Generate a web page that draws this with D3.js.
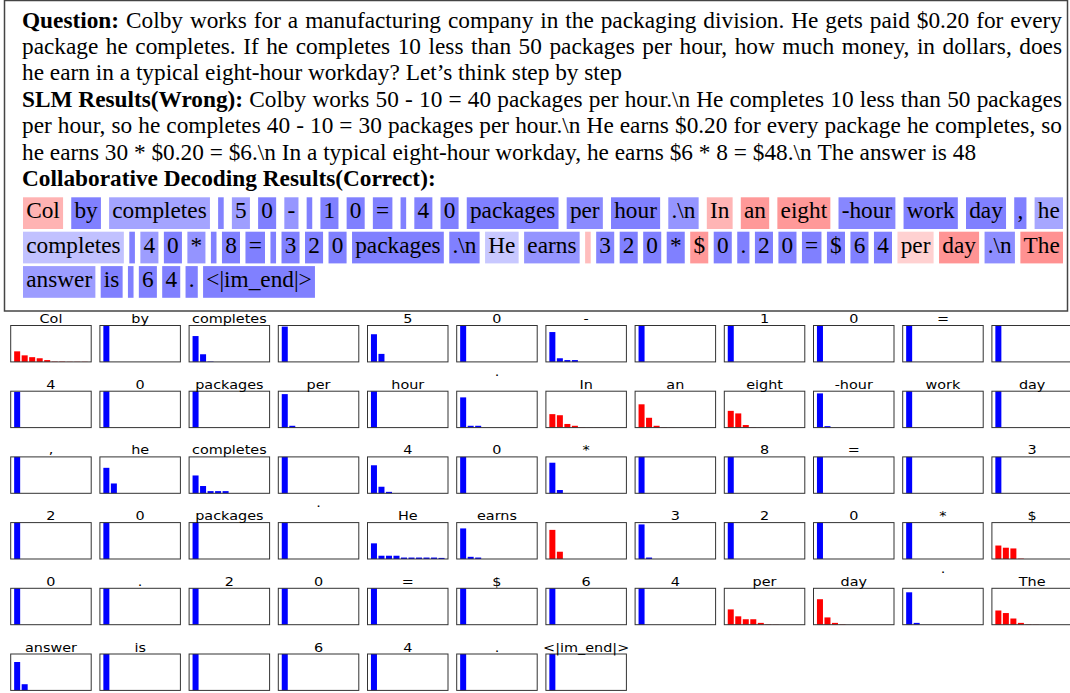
<!DOCTYPE html>
<html>
<head>
<meta charset="utf-8">
<script src="https://cdn.jsdelivr.net/npm/d3@7"></script>
<style>
  body { margin: 0; background: #fff; }
  svg { display: block; }
</style>
</head>
<body>
<svg id="chart" width="1070" height="693"></svg>
<script>
// ---- data ----
const questionLines = [
  'Colby works for a manufacturing company in the packaging division. He gets paid $0.20 for every',
  'package he completes. If he completes 10 less than 50 packages per hour, how much money, in dollars, does',
  'he earn in a typical eight-hour workday? Let\u2019s think step by step',
]
const slmLines = [
  'Colby works 50 - 10 = 40 packages per hour.\\n He completes 10 less than 50 packages',
  'per hour, so he completes 40 - 10 = 30 packages per hour.\\n He earns $0.20 for every package he completes, so',
  'he earns 30 * $0.20 = $6.\\n In a typical eight-hour workday, he earns $6 * 8 = $48.\\n The answer is 48',
]

// decoded tokens (" " = space token, "\n" = newline)
const tokens = [
  'Col', 'by', 'completes', ' ', '5', '0', '-', ' ', '1', '0', '=', ' ',
  '4', '0', 'packages', 'per', 'hour', '.\n', 'In', 'an', 'eight', '-hour', 'work', 'day',
  ',', 'he', 'completes', ' ', '4', '0', '*', ' ', '8', '=', ' ', '3',
  '2', '0', 'packages', '.\n', 'He', 'earns', ' ', '3', '2', '0', '*', '$',
  '0', '.', '2', '0', '=', '$', '6', '4', 'per', 'day', '.\n', 'The',
  'answer', 'is', ' ', '6', '4', '.', '<|im_end|>',
]

// top-10 next-token probabilities of the small model at each step
const topProbs = [
  [0.29, 0.18, 0.13, 0.1, 0.05, 0.01, 0.01, 0.005, 0.005, 0.005],
  [1], [0.71, 0.21, 0.01], [0.97], [0.76, 0.22], [1], [0.82, 0.1, 0.05, 0.05], [1],
  [1], [1], [1], [1],
  [0.98], [1], [1], [0.92, 0.05], [1], [0.83, 0.05, 0.05],
  [0.37, 0.34, 0.1, 0.05, 0.01, 0.005, 0.005], [0.64, 0.27, 0.05, 0.01, 0.005],
  [0.46, 0.39, 0.07, 0.01, 0.005], [0.94, 0.04], [1], [1],
  [1], [0.7, 0.27], [0.49, 0.2, 0.06, 0.06, 0.06], [1], [0.77, 0.18, 0.04], [1],
  [0.84, 0.09], [1], [1], [1], [1], [1],
  [1], [1], [1], [1], [0.43, 0.09, 0.09, 0.09, 0.04, 0.04, 0.04, 0.04, 0.04, 0.03],
  [0.84, 0.06, 0.04], [0.8, 0.2], [0.95, 0.04], [1], [1], [1], [0.37, 0.31, 0.29, 0.01],
  [1], [1], [1], [1], [1], [1], [1], [1],
  [0.42, 0.23, 0.15, 0.15, 0.05, 0.01, 0.005], [0.7, 0.2, 0.05, 0.01], [0.89, 0.05],
  [0.39, 0.32, 0.17, 0.05, 0.01, 0.005],
  [0.78, 0.17], [1], [1], [1], [1], [1], [1],
]

// tokens handed over to the large model, and their shading weight
const redTokens = [0, 18, 19, 20, 42, 47, 56, 57, 59]
const redWeights = [0.3, 0.29, 0.4, 0.4, 0.26, 0.4, 0.18, 0.42, 0.43]

// ---- layout ----
const svg = d3.select('#chart')
const serif = '"Liberation Serif", "Times New Roman", Times, serif'
const sans = '"DejaVu Sans", sans-serif'
const fs = 23.3

const redMap = new Map(redTokens.map((t, i) => [t, redWeights[i]]))
const blueCol = d3.interpolateRgb('#ffffff', '#0000ff')
const redCol = d3.interpolateRgb('#ffffff', '#ff0000')

// hidden text for measuring
const meas = svg.append('text')
  .attr('font-family', serif)
  .attr('font-size', fs)
  .attr('visibility', 'hidden')
function textWidth(s, bold) {
  meas.attr('font-weight', bold ? 'bold' : 'normal').text(s)
  return meas.node().getComputedTextLength()
}
const spaceW = textWidth('a a') - textWidth('aa')

// outer frame
svg.append('rect')
  .attr('x', 4.5).attr('y', 0.5)
  .attr('width', 1063).attr('height', 310.5)
  .attr('fill', 'none')
  .attr('stroke', '#444')
  .attr('stroke-width', 1.5)

// paragraph lines
function lineWords(prefix, str) {
  const words = []
  if (prefix) words.push({ t: prefix, b: true })
  if (str) str.split(' ').forEach((w) => words.push({ t: w, b: false }))
  return words
}
const paraLines = [
  { words: lineWords('Question:', questionLines[0]), justify: true },
  { words: lineWords(null, questionLines[1]), justify: true },
  { words: lineWords(null, questionLines[2]), justify: false },
  { words: lineWords('SLM Results(Wrong):', slmLines[0]), justify: true },
  { words: lineWords(null, slmLines[1]), justify: true },
  { words: lineWords(null, slmLines[2]), justify: false },
  { words: lineWords('Collaborative Decoding Results(Correct):', null), justify: false },
]

const textLeft = 22
const textRight = 1062
const baseline0 = 27.5
const lineH = 26.45

const textLayer = svg.append('g').attr('id', 'paragraph')
paraLines.forEach((line, li) => {
  const widths = line.words.map((w) => textWidth(w.t, w.b))
  const total = d3.sum(widths)
  const gap = line.justify
    ? (textRight - textLeft - total) / (line.words.length - 1)
    : spaceW
  let x = textLeft
  const t = textLayer.append('text')
    .attr('y', baseline0 + li * lineH)
    .attr('font-family', serif)
    .attr('font-size', fs)
    .attr('fill', '#000')
  line.words.forEach((w, i) => {
    t.append('tspan')
      .attr('x', x)
      .attr('font-weight', w.b ? 'bold' : 'normal')
      .text(w.t)
    x += widths[i] + gap
  })
})

// highlighted tokens
const rowBreaks = [0, 26, 60, tokens.length]
const boxTop0 = 197.3
const boxPitch = 34.4
const boxH = 31.7
const pad = 3.2
const spaceBoxW = 5.6
const tokGap = 5.3

function tokenLabel(t) {
  return t.replace(/\n/g, '\\n')
}
function tokenFill(i) {
  if (redMap.has(i)) return redCol(redMap.get(i))
  return blueCol(0.5 * d3.max(topProbs[i]))
}

const tokLayer = svg.append('g').attr('id', 'tokens')
for (let r = 0; r < rowBreaks.length - 1; r++) {
  const idx = d3.range(rowBreaks[r], rowBreaks[r + 1])
  const boxW = idx.map((i) =>
    tokens[i].trim() === '' ? spaceBoxW : textWidth(tokenLabel(tokens[i]), false) + 2 * pad
  )
  const last = r === rowBreaks.length - 2
  const gap = last
    ? tokGap
    : (textRight + 1 - (textLeft + 1) - d3.sum(boxW)) / (idx.length - 1)
  let x = textLeft + 1
  const y = boxTop0 + r * boxPitch
  idx.forEach((i, k) => {
    const g = tokLayer.append('g').attr('transform', `translate(${x},${y})`)
    g.append('rect')
      .attr('width', boxW[k])
      .attr('height', boxH)
      .attr('fill', tokenFill(i))
    if (tokens[i].trim() !== '') {
      g.append('text')
        .attr('x', pad)
        .attr('y', 21)
        .attr('font-family', serif)
        .attr('font-size', fs)
        .attr('fill', '#000')
        .text(tokenLabel(tokens[i]))
    }
    x += boxW[k] + gap
  })
}

// small multiples of the token distributions
const nCols = 12
const panelX0 = 10.7
const panelY0 = 325.5
const pitchX = 89.2
const pitchY = 65.7
const pw = 80.5
const ph = 36.4

const x = d3.scaleLinear().domain([-0.86, 9.86]).range([0, pw])
const y = d3.scaleLinear().domain([0, 1]).range([ph, 0])

const panels = svg.append('g').attr('id', 'panels')
  .selectAll('g')
  .data(tokens.map((t, i) => ({ t, i, probs: d3.range(10).map((k) => topProbs[i][k] || 0) })))
  .join('g')
  .attr('transform', (d) =>
    `translate(${panelX0 + (d.i % nCols) * pitchX},${panelY0 + Math.floor(d.i / nCols) * pitchY})`)

panels.each(function (d) {
  const g = d3.select(this)
  const color = redMap.has(d.i) ? '#ff0000' : '#0000ff'
  g.selectAll('rect.bar')
    .data(d.probs)
    .join('rect')
    .attr('class', 'bar')
    .attr('x', (v, k) => x(k - 0.4))
    .attr('width', x(0.4) - x(-0.4))
    .attr('y', (v) => y(v))
    .attr('height', (v) => ph - y(v))
    .attr('fill', color)

  g.append('rect')
    .attr('width', pw)
    .attr('height', ph)
    .attr('fill', 'none')
    .attr('stroke', '#333')
    .attr('stroke-width', 1)

  const lines = d.t.trim() === '' ? [] : d.t.split('\n')
  lines.forEach((ln, j) => {
    g.append('text')
      .attr('transform', `translate(${pw / 2},${-2.5 - (lines.length - 1 - j) * 13})scale(1.2,1)`)
      .attr('text-anchor', 'middle')
      .attr('font-family', sans)
      .attr('font-size', 12)
      .attr('fill', '#000')
      .text(ln)
  })
})
</script>
</body>
</html>
